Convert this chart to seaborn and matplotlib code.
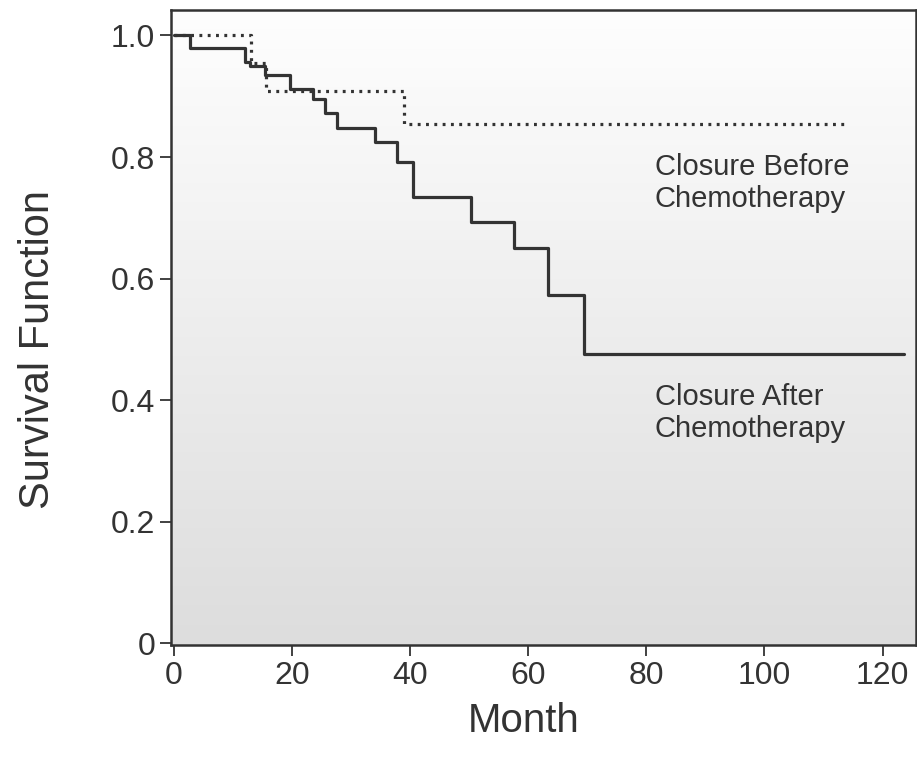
import numpy as np
import pandas as pd
import matplotlib
matplotlib.use('Agg')
import matplotlib.pyplot as plt
import seaborn as sns

# Kaplan-Meier steps
after_months = [0, 2.7, 12.0, 12.8, 15.5, 19.6, 23.6, 25.6, 27.6, 34.1, 37.7,
                40.4, 50.3, 57.5, 63.4, 69.4, 123.6]
after_surv = [1.0, 0.979, 0.956, 0.950, 0.935, 0.912, 0.895, 0.872, 0.847,
              0.824, 0.792, 0.735, 0.693, 0.651, 0.573, 0.476, 0.476]

before_months = [0, 13.0, 15.6, 38.9, 113.7]
before_surv = [1.0, 0.954, 0.909, 0.854, 0.854]

x_ticks = [0, 20, 40, 60, 80, 100, 120]
y_ticks = [0, 0.2, 0.4, 0.6, 0.8, 1.0]
y_tick_labels = ['0', '0.2', '0.4', '0.6', '0.8', '1.0']

sns.set_style('ticks')
plt.rcParams['font.family'] = ['Liberation Sans', 'DejaVu Sans']

ink = '#333333'

fig = plt.figure(figsize=(9.17, 7.67), dpi=100)
ax = fig.add_axes([0.1865, 0.159, 0.812, 0.828])

# grey gradient background (white at top, light grey at bottom)
grad = np.linspace(0, 1, 256).reshape(-1, 1)
ax.imshow(grad, extent=[0, 1, 0, 1], transform=ax.transAxes, aspect='auto',
          cmap=matplotlib.colors.LinearSegmentedColormap.from_list(
              'bg', ['#dddddd', '#fefefe']),
          origin='lower', zorder=0)

after = pd.DataFrame({'Month': after_months, 'Survival': after_surv})
before = pd.DataFrame({'Month': before_months, 'Survival': before_surv})

sns.lineplot(data=before, x='Month', y='Survival', ax=ax, color=ink,
             linewidth=2.3, linestyle=(0, (0.9, 1.7)), drawstyle='steps-post',
             estimator=None, sort=False, zorder=3)
sns.lineplot(data=after, x='Month', y='Survival', ax=ax, color=ink,
             linewidth=2.3, drawstyle='steps-post',
             estimator=None, sort=False, zorder=4)

ax.text(81.4, 0.757, 'Closure Before\nChemotherapy', fontsize=21, color=ink,
        ha='left', va='center', linespacing=1.2)
ax.text(81.4, 0.379, 'Closure After\nChemotherapy', fontsize=21, color=ink,
        ha='left', va='center', linespacing=1.2)

ax.set_xlim(-0.5, 125.6)
ax.set_ylim(-0.003, 1.042)
ax.set_xticks(x_ticks)
ax.set_yticks(y_ticks)
ax.set_yticklabels(y_tick_labels)
ax.tick_params(axis='both', labelsize=23, colors=ink, length=8, width=1.3,
               direction='out', pad=3.5)
ax.set_xlabel('Month', fontsize=29, color=ink)
ax.set_ylabel('Survival Function', fontsize=30, color=ink)
ax.xaxis.set_label_coords(0.474, -0.12)
ax.xaxis.label.set_verticalalignment('center')
ax.yaxis.set_label_coords(-0.178, 0.465)
ax.yaxis.label.set_verticalalignment('center')

for side in ['left', 'right', 'top', 'bottom']:
    ax.spines[side].set_visible(True)
    ax.spines[side].set_color(ink)
    ax.spines[side].set_linewidth(1.8)

fig.savefig('out.png', dpi=100)
